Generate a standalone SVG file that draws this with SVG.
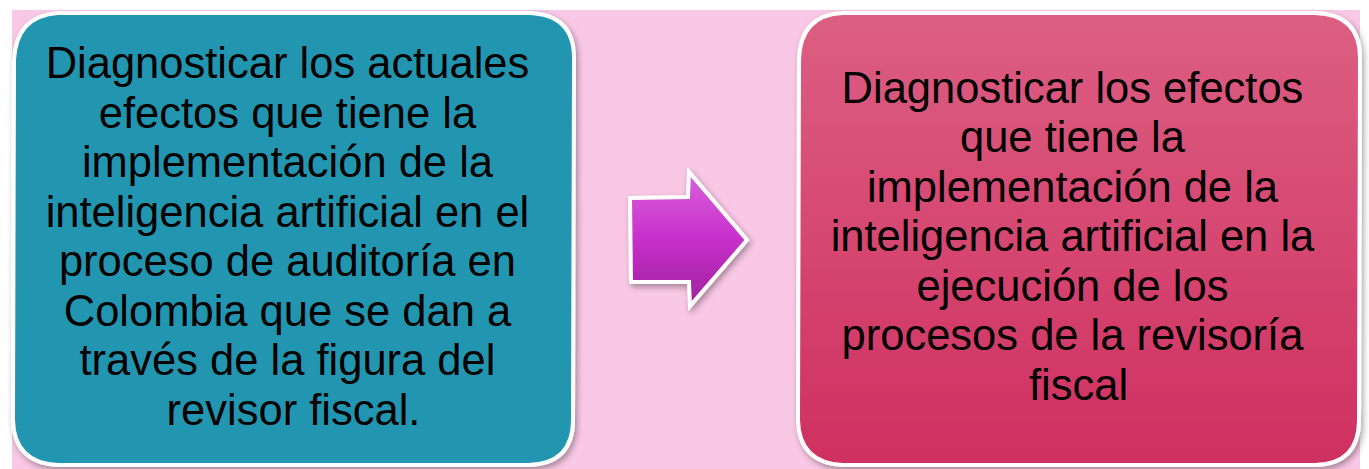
<svg xmlns="http://www.w3.org/2000/svg" width="1369" height="469" viewBox="0 0 1369 469">
  <defs>
    <linearGradient id="gRed" x1="0" y1="0" x2="0" y2="1">
      <stop offset="0" stop-color="#DC5F82"/>
      <stop offset="1" stop-color="#CF2F60"/>
    </linearGradient>
    <linearGradient id="gArrow" x1="0" y1="0" x2="0" y2="1">
      <stop offset="0" stop-color="#DA62DA"/>
      <stop offset="0.5" stop-color="#C82FCB"/>
      <stop offset="1" stop-color="#9E229C"/>
    </linearGradient>
    <filter id="shadow" x="-10%" y="-10%" width="120%" height="120%">
      <feDropShadow dx="2" dy="3" stdDeviation="3" flood-color="#000" flood-opacity="0.35"/>
    </filter>
  </defs>
  <style>
    .box { stroke: #FFFFFF; stroke-width: 4; filter: url(#shadow); }
    .txt { font-family: "Liberation Sans", Arial, sans-serif; font-size: 43.5px; fill: #000; text-anchor: middle; }
  </style>
  <rect x="12" y="10" width="1348" height="459" fill="#F9C8E6"/>

  <g id="node-left">
    <path class="box" fill="#2196B0" d="M58,13 L528,13 Q574,14 574,58 L573,420 Q573,464 528,465 L58,465 Q14,463 13,420 L14,60 Q16,16 58,13 Z"/>
    <text class="txt">
      <tspan x="293.5" y="78">Diagnosticar los actuales</tspan>
      <tspan x="293.5" y="128">efectos que tiene la</tspan>
      <tspan x="293.5" y="177">implementación de la</tspan>
      <tspan x="293.5" y="227">inteligencia artificial en el</tspan>
      <tspan x="293.5" y="276">proceso de auditoría en</tspan>
      <tspan x="293.5" y="326">Colombia que se dan a</tspan>
      <tspan x="293.5" y="375">través de la figura del</tspan>
      <tspan x="293.5" y="425">revisor fiscal.</tspan>
    </text>
  </g>

  <g id="connectors">
    <path id="arrow" class="box" fill="url(#gArrow)" stroke-width="3.5" d="M630,198 L688,197 L689,172 L747,240 L690,306 L689,282 L631,282 Z"/>
  </g>

  <g id="node-right">
    <path class="box" fill="url(#gRed)" d="M843,13 L1315,13 Q1360,14 1360,58 L1359,420 Q1359,464 1315,465 L843,465 Q799,463 798,420 L799,60 Q800,15 843,13 Z"/>
    <text class="txt">
      <tspan x="1078.5" y="103">Diagnosticar los efectos</tspan>
      <tspan x="1078.5" y="152">que tiene la</tspan>
      <tspan x="1078.5" y="202">implementación de la</tspan>
      <tspan x="1078.5" y="251">inteligencia artificial en la</tspan>
      <tspan x="1078.5" y="301">ejecución de los</tspan>
      <tspan x="1078.5" y="350">procesos de la revisoría</tspan>
      <tspan x="1078.5" y="400">fiscal</tspan>
    </text>
  </g>
</svg>
